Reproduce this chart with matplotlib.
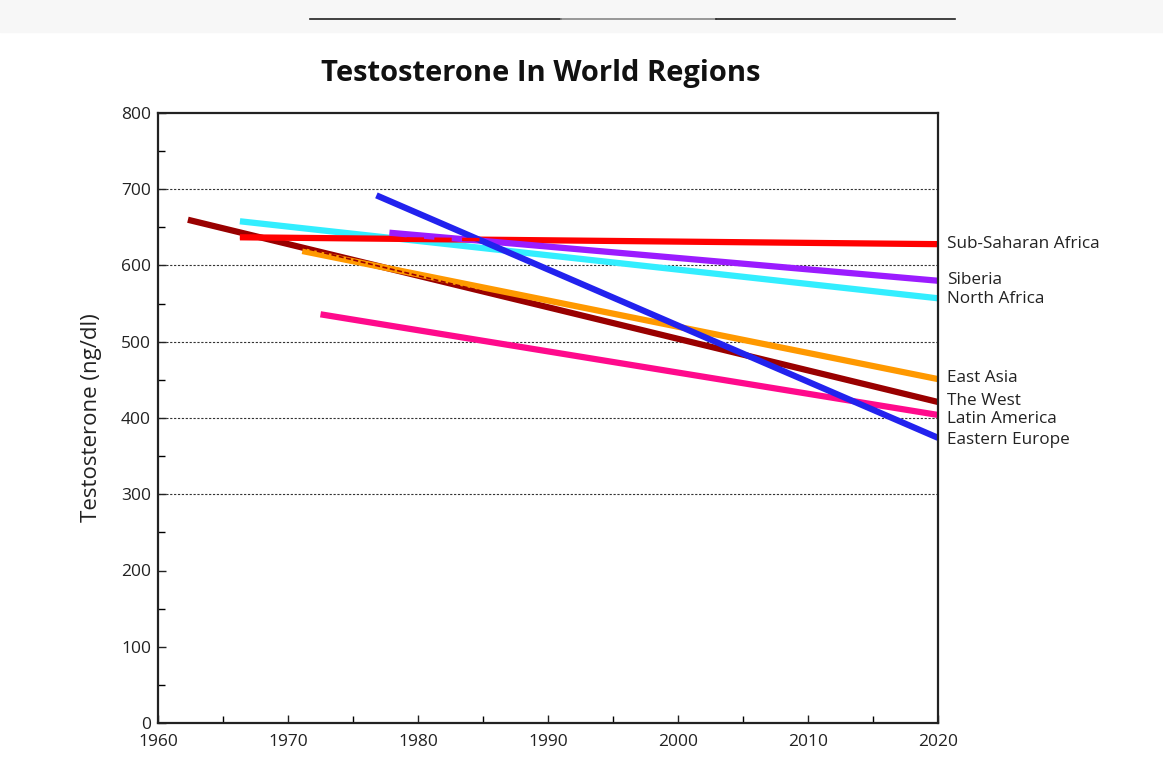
import numpy as np
import matplotlib.pyplot as plt
from matplotlib.patches import Rectangle
from matplotlib.lines import Line2D

plt.rcParams['font.family'] = ['Open Sans', 'DejaVu Sans']

# Regional trend lines (start year, start value, end year, end value)
regions = ['Sub-Saharan Africa', 'Siberia', 'North Africa', 'East Asia',
           'The West', 'Latin America', 'Eastern Europe']
colors = ['#ff0000', '#9b1cff', '#33eeff', '#ff9900', '#990000', '#ff0a8c', '#2222ee']
start_year = [1966.3, 1977.8, 1966.3, 1971.1, 1962.3, 1972.5, 1976.8]
start_val = [637, 643, 658, 619, 660, 536, 692]
end_year = [2020, 2020, 2020, 2020, 2020, 2020, 2020]
end_val = [628, 580, 557, 451, 421, 404, 374]
label_y = [628, 581, 556, 452, 422, 399, 371]

# drawing order as in the picture
order = ['Latin America', 'The West', 'East Asia', 'North Africa',
         'Sub-Saharan Africa', 'Siberia', 'Eastern Europe']

fig = plt.figure(figsize=(11.63, 7.76), dpi=100)
fig.patches.append(Rectangle((0, 1 - 32 / 776), 1, 32 / 776, transform=fig.transFigure,
                             color='#f7f7f7', zorder=0))
fig.lines.append(Line2D([310 / 1163, 561 / 1163], [1 - 19 / 776] * 2, transform=fig.transFigure,
                        color='#222222', lw=1.2))
fig.lines.append(Line2D([561 / 1163, 716 / 1163], [1 - 19 / 776] * 2, transform=fig.transFigure,
                        color='#888888', lw=1.2))
fig.lines.append(Line2D([716 / 1163, 955 / 1163], [1 - 19 / 776] * 2, transform=fig.transFigure,
                        color='#222222', lw=1.2))

ax = fig.add_axes([158 / 1163, 1 - 723 / 776, 780 / 1163, 610 / 776])

for y in [300, 400, 500, 600, 700]:
    ax.axhline(y, color='#333333', lw=0.8, ls=(0, (2, 1.5)), zorder=1)

for name in order:
    i = regions.index(name)
    ax.plot([start_year[i], end_year[i]], [start_val[i], end_val[i]],
            color=colors[i], lw=4.5, solid_capstyle='butt', zorder=2)
    ax.text(1.012, label_y[i], name, transform=ax.get_yaxis_transform(),
            fontsize=12.3, color='#222222', va='center', ha='left')

# dashed overlays where lines coincide
w = regions.index('The West')
slope = (end_val[w] - start_val[w]) / (end_year[w] - start_year[w])
xs = np.array([1971.1, 1985])
ax.plot(xs, start_val[w] + slope * (xs - start_year[w]), color=colors[w], lw=1.2,
        ls=(0, (3, 1.5)), zorder=3)
s = regions.index('Sub-Saharan Africa')
slope = (end_val[s] - start_val[s]) / (end_year[s] - start_year[s])
xs = np.array([1966.3, 1985])
ax.plot(xs, start_val[s] + slope * (xs - start_year[s]), color=colors[s], lw=2.5,
        ls=(0, (5, 3)), zorder=3)

ax.set_xlim(1960, 2020)
ax.set_ylim(0, 800)
ax.set_xticks(range(1960, 2021, 10))
ax.set_xticks(range(1965, 2020, 10), minor=True)
ax.set_yticks(range(0, 801, 100))
ax.set_yticks(range(50, 800, 100), minor=True)
ax.tick_params(direction='in', length=6, width=1, labelsize=12.5, colors='#222222')
ax.tick_params(axis='x', pad=8)
ax.tick_params(axis='y', pad=5)
ax.tick_params(which='minor', direction='in', length=5, width=1)
for sp in ax.spines.values():
    sp.set_linewidth(1.6)
    sp.set_color('#222222')

ax.set_ylabel('Testosterone (ng/dl)', fontsize=16, color='#222222', labelpad=14)
fig.text(541 / 1163, 1 - 73 / 776, 'Testosterone In World Regions', fontsize=21,
         fontweight='bold', ha='center', va='center', color='#111111')

fig.savefig('out.png', dpi=100)
